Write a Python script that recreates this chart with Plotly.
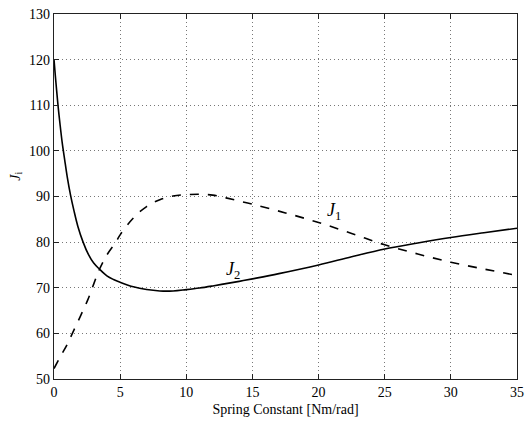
import plotly.graph_objects as go

# Data
k_j1 = [0, 0.5, 1, 1.39, 2, 2.56, 3, 3.43, 4, 4.67, 5, 6, 7, 8, 9, 10, 11, 12, 13, 15,
        17.5, 20, 22.5, 25, 27.5, 30, 32.5, 35]
j1 = [52.3, 55.0, 57.6, 60.0, 63.8, 67.4, 70.8, 74.0, 77.2, 80.0, 81.6, 85.3, 87.8, 89.3,
      90.1, 90.4, 90.5, 90.3, 89.7, 88.3, 86.4, 84.3, 81.9, 79.4, 77.4, 75.6, 74.1, 72.7]

k_j2 = [0, 0.1, 0.2, 0.32, 0.45, 0.62, 0.8, 1.0, 1.25, 1.5, 1.8, 2.2, 2.6, 3.0, 3.43, 4,
        4.5, 5, 6, 7, 8, 9, 10, 11, 12, 13, 14, 15, 17, 20, 22.5, 25, 27.5, 30, 32.5, 35]
j2 = [120, 116.5, 113.2, 109.5, 106.0, 101.8, 98.2, 94.3, 90.3, 87.0, 83.5, 80.0, 77.3,
      75.4, 74.1, 72.6, 71.8, 71.2, 70.2, 69.6, 69.3, 69.3, 69.6, 69.95, 70.4, 70.9, 71.4,
      71.95, 73.1, 75.0, 76.8, 78.5, 79.8, 81.0, 82.05, 83.05]

x_ticks = [0, 5, 10, 15, 20, 25, 30, 35]
y_ticks = [50, 60, 70, 80, 90, 100, 110, 120, 130]

FONT = "Liberation Serif"

fig = go.Figure()
fig.add_trace(go.Scatter(x=k_j1, y=j1, mode="lines", line=dict(color="black", width=1.6, dash="dash", shape="spline", smoothing=1.0), showlegend=False))
fig.add_trace(go.Scatter(x=k_j2, y=j2, mode="lines", line=dict(color="black", width=1.6, shape="spline", smoothing=1.0), showlegend=False))

axis_common = dict(
    showline=True, linecolor="#222", linewidth=1.2, mirror="ticks",
    ticks="inside", ticklen=5, tickcolor="#222",
    showgrid=True, gridcolor="#777", griddash="1px,3px", gridwidth=1,
    zeroline=False, tickfont=dict(family=FONT, size=14, color="black"),
)
fig.update_xaxes(range=[0, 35], tickvals=x_ticks, **axis_common,
                 title=dict(text="Spring Constant [Nm/rad]", font=dict(family=FONT, size=14, color="black"), standoff=5))
fig.update_yaxes(range=[50, 130], tickvals=y_ticks, **axis_common)

fig.add_annotation(x=21.2, y=86.8, text="<i>J</i><sub>1</sub>", showarrow=False,
                   font=dict(family=FONT, size=18, color="black"))
fig.add_annotation(x=13.5, y=73.8, text="<i>J</i><sub>2</sub>", showarrow=False,
                   font=dict(family=FONT, size=18, color="black"))
fig.add_annotation(xref="paper", yref="paper", x=-0.083, y=0.556, xanchor="center", text="<i>J</i><sub>i</sub>",
                   showarrow=False, textangle=-90, font=dict(family=FONT, size=14, color="black"))

fig.update_layout(
    width=531, height=427, margin=dict(l=54, r=7, t=12, b=48),
    paper_bgcolor="white", plot_bgcolor="white",
)
fig.write_html("out.html")
